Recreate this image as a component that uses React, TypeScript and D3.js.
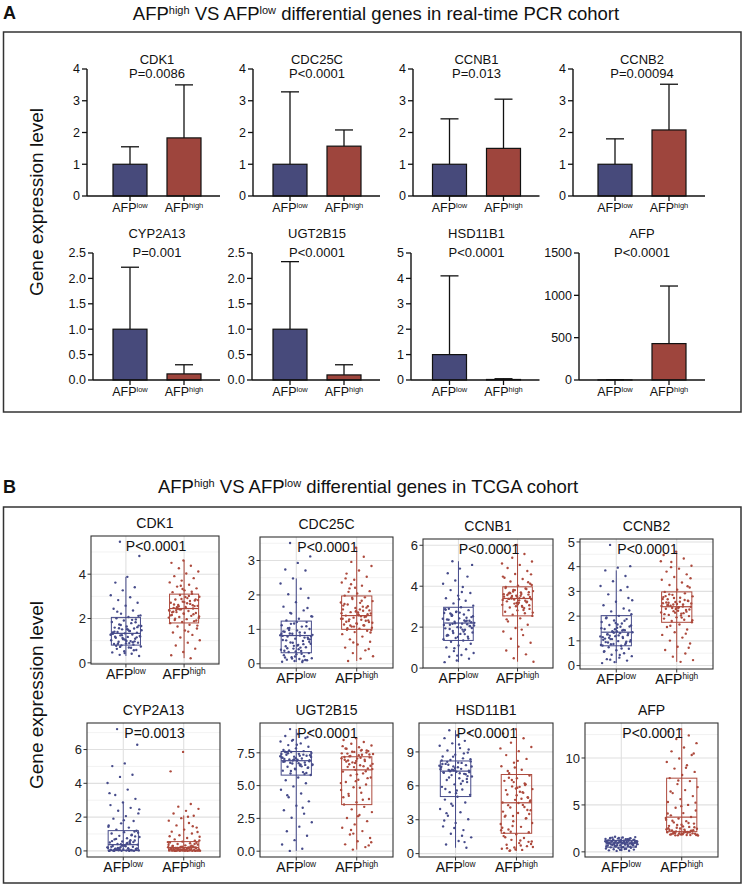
import React from 'react'
import * as d3 from 'd3'

// ---- shared ----
const groups = ['low', 'high']
const genes = ['CDK1', 'CDC25C', 'CCNB1', 'CCNB2', 'CYP2A13', 'UGT2B15', 'HSD11B1', 'AFP']

// ---- panel A: real-time PCR cohort (mean + upper SD) ----
const pcrPValues = ['P=0.0086', 'P<0.0001', 'P=0.013', 'P=0.00094', 'P=0.001', 'P<0.0001', 'P<0.0001', 'P<0.0001']
const pcrLowMean = [1, 1, 1, 1, 1, 1, 1, 1]
const pcrLowUpper = [1.55, 3.28, 2.43, 1.8, 2.22, 2.33, 4.1, 3]
const pcrHighMean = [1.83, 1.57, 1.5, 2.08, 0.12, 0.1, 0.02, 430]
const pcrHighUpper = [3.5, 2.08, 3.05, 3.52, 0.3, 0.3, 0.05, 1110]
const pcrTicks = [
  [0, 1, 2, 3, 4],
  [0, 1, 2, 3, 4],
  [0, 1, 2, 3, 4],
  [0, 1, 2, 3, 4],
  [0, 0.5, 1, 1.5, 2, 2.5],
  [0, 0.5, 1, 1.5, 2, 2.5],
  [0, 1, 2, 3, 4, 5],
  [0, 500, 1000, 1500],
]

// ---- panel B: TCGA cohort (box + jittered samples) ----
const tcgaPValues = ['P<0.0001', 'P<0.0001', 'P<0.0001', 'P<0.0001', 'P=0.0013', 'P<0.0001', 'P<0.0001', 'P<0.0001']
const tcgaTicks = [
  [0, 2, 4],
  [0, 1, 2, 3],
  [0, 2, 4, 6],
  [0, 1, 2, 3, 4, 5],
  [0, 2, 4, 6],
  [0, 2.5, 5, 7.5],
  [0, 3, 6, 9],
  [0, 5, 10],
]
// [lower whisker, q1, median, q3, upper whisker]
const tcgaLowBox = [
  [0.31, 0.8, 1.33, 2.05, 3.88],
  [0.05, 0.32, 0.82, 1.24, 2.48],
  [0.29, 1.35, 2.2, 2.97, 5.22],
  [0.1, 0.8, 1.35, 2.02, 3.85],
  [0, 0.02, 0.37, 1.2, 2.87],
  [0.02, 5.8, 6.9, 7.6, 9.31],
  [0.52, 5.05, 7.3, 8.2, 10.92],
  [0.1, 0.5, 0.95, 1.2, 1.61],
]
const tcgaHighBox = [
  [0.21, 1.8, 2.45, 3.1, 4.62],
  [0.08, 1.0, 1.4, 1.97, 3.37],
  [0.31, 2.55, 3.4, 3.97, 6.02],
  [0.15, 1.75, 2.38, 2.98, 4.61],
  [0, 0, 0.2, 0.55, 2.1],
  [0.12, 3.55, 6.2, 7.2, 8.62],
  [0.24, 1.8, 4.5, 7.0, 11.02],
  [1.73, 2.15, 3.7, 7.85, 13.08],
]
const tcgaLowPoints = [
  [5.46, 4.82, 3.88, 3.62, 3.41, 3.27, 3.05, 2.96, 2.83, 2.71, 2.58, 2.44, 2.36, 2.22, 2.14, 2.07, 2.01, 1.96, 1.91, 1.84, 1.79, 1.73, 1.68, 1.64, 1.59, 1.55, 1.51, 1.47, 1.43, 1.39, 1.36, 1.33, 1.31, 1.28, 1.24, 1.21, 1.17, 1.13, 1.09, 1.06, 1.02, 0.98, 0.95, 0.91, 0.88, 0.85, 0.82, 0.79, 0.74, 0.69, 0.63, 0.58, 0.52, 0.47, 0.41, 0.36, 0.31, 1.52, 1.18, 0.97],
  [3.51, 3.12, 2.93, 2.74, 2.71, 2.48, 2.33, 2.18, 2.02, 1.91, 1.79, 1.66, 1.55, 1.46, 1.38, 1.31, 1.26, 1.21, 1.17, 1.12, 1.08, 1.04, 1.01, 0.97, 0.93, 0.9, 0.87, 0.84, 0.82, 0.79, 0.76, 0.73, 0.69, 0.66, 0.62, 0.58, 0.55, 0.51, 0.48, 0.44, 0.41, 0.37, 0.34, 0.31, 0.28, 0.25, 0.22, 0.19, 0.16, 0.14, 0.12, 0.1, 0.08, 0.06, 0.05, 0.88, 0.71, 0.53, 0.18, 0.11],
  [5.22, 5.04, 4.86, 4.63, 4.47, 4.28, 4.12, 3.96, 3.81, 3.67, 3.54, 3.41, 3.29, 3.16, 3.05, 2.97, 2.9, 2.83, 2.76, 2.69, 2.62, 2.55, 2.49, 2.43, 2.37, 2.31, 2.26, 2.21, 2.17, 2.12, 2.06, 2.0, 1.94, 1.87, 1.81, 1.74, 1.67, 1.6, 1.53, 1.47, 1.41, 1.35, 1.28, 1.19, 1.1, 1.01, 0.92, 0.83, 0.74, 0.64, 0.55, 0.46, 0.37, 0.29, 2.33, 2.58, 1.96, 2.71, 1.62, 2.14],
  [4.88, 4.02, 3.96, 3.85, 3.62, 3.41, 3.22, 3.05, 2.88, 2.73, 2.58, 2.44, 2.31, 2.19, 2.08, 2.01, 1.95, 1.88, 1.82, 1.76, 1.7, 1.64, 1.58, 1.53, 1.48, 1.43, 1.39, 1.35, 1.31, 1.27, 1.23, 1.19, 1.15, 1.11, 1.07, 1.03, 0.99, 0.95, 0.91, 0.87, 0.83, 0.8, 0.74, 0.68, 0.62, 0.56, 0.5, 0.44, 0.38, 0.32, 0.26, 0.2, 0.14, 0.1, 1.42, 1.21, 0.97, 1.66, 1.09, 0.85],
  [7.21, 6.28, 5.18, 5.02, 4.51, 4.38, 4.02, 3.63, 3.31, 3.08, 2.87, 2.71, 2.55, 2.38, 2.22, 2.06, 1.91, 1.77, 1.63, 1.5, 1.38, 1.26, 1.19, 1.11, 1.03, 0.96, 0.89, 0.82, 0.75, 0.68, 0.62, 0.56, 0.5, 0.45, 0.41, 0.37, 0.33, 0.29, 0.25, 0.22, 0.19, 0.16, 0.13, 0.11, 0.09, 0.07, 0.05, 0.04, 0.03, 0.02, 0.02, 0.01, 0.01, 0.0, 0.0, 0.06, 0.14, 0.31, 0.58, 0.03],
  [9.31, 9.12, 8.94, 8.78, 8.63, 8.49, 8.36, 8.22, 8.09, 7.96, 7.84, 7.72, 7.63, 7.56, 7.49, 7.42, 7.35, 7.28, 7.21, 7.14, 7.07, 7.0, 6.94, 6.89, 6.83, 6.76, 6.69, 6.61, 6.53, 6.44, 6.35, 6.25, 6.14, 6.03, 5.92, 5.81, 5.62, 5.41, 5.18, 4.94, 4.68, 4.4, 4.11, 3.8, 3.47, 3.12, 2.86, 2.55, 2.21, 1.87, 1.52, 1.18, 0.84, 0.51, 0.18, 0.02, 7.31, 6.97, 7.58, 6.58],
  [10.92, 10.71, 10.48, 10.22, 9.98, 9.76, 9.55, 9.34, 9.13, 8.94, 8.76, 8.59, 8.43, 8.28, 8.16, 8.05, 7.94, 7.83, 7.72, 7.61, 7.5, 7.41, 7.33, 7.25, 7.16, 7.06, 6.95, 6.82, 6.67, 6.51, 6.33, 6.13, 5.91, 5.68, 5.44, 5.2, 5.03, 4.78, 4.52, 4.24, 3.95, 3.66, 3.35, 3.04, 2.72, 2.41, 2.08, 1.76, 1.44, 1.12, 0.81, 0.52, 7.38, 7.69, 8.03, 6.74, 7.21, 5.58, 2.93, 1.02],
  [1.61, 1.57, 1.53, 1.49, 1.45, 1.41, 1.38, 1.34, 1.31, 1.28, 1.25, 1.22, 1.19, 1.17, 1.14, 1.12, 1.09, 1.07, 1.04, 1.02, 0.99, 0.97, 0.95, 0.93, 0.9, 0.88, 0.85, 0.82, 0.79, 0.76, 0.73, 0.7, 0.67, 0.63, 0.6, 0.56, 0.52, 0.48, 0.44, 0.4, 0.36, 0.32, 0.28, 0.24, 0.2, 0.16, 0.12, 0.1, 1.06, 0.94, 1.15, 0.87, 1.21, 0.99, 1.36, 0.65, 1.1, 0.91, 1.43, 0.54],
]
const tcgaLowPointsMore = [
  [1.12, 1.27, 1.44, 0.86, 1.61, 1.03, 1.35, 0.93, 1.71, 1.19, 1.49, 0.77, 1.83, 1.08, 1.3, 0.68, 1.56, 2.12, 0.99, 1.41, 0.57, 1.25, 1.66, 0.89, 2.31, 1.15, 0.44, 1.37, 1.94, 0.72],
  [0.61, 0.83, 0.47, 1.03, 0.72, 0.36, 0.94, 0.57, 1.16, 0.79, 0.42, 0.68, 1.09, 0.52, 0.87, 0.29, 0.98, 0.64, 1.21, 0.38, 0.76, 0.15, 1.37, 0.91, 0.45, 1.62, 0.21, 0.81, 0.09, 1.48],
  [2.19, 2.41, 1.88, 2.67, 2.04, 1.52, 2.85, 2.28, 1.71, 2.53, 1.98, 2.36, 1.44, 2.74, 2.11, 1.79, 2.62, 2.24, 3.36, 1.58, 2.46, 0.97, 2.08, 3.72, 1.91, 2.31, 0.61, 2.88, 1.66, 2.16],
  [1.36, 1.18, 1.57, 0.93, 1.29, 1.72, 1.04, 1.44, 0.86, 1.62, 1.22, 1.91, 0.97, 1.33, 1.51, 0.69, 1.12, 2.23, 1.39, 0.58, 1.81, 1.07, 2.64, 0.43, 1.26, 3.18, 1.47, 0.81, 1.16, 0.24],
  [0.08, 0.21, 0.47, 0.12, 0.86, 0.34, 0.04, 0.63, 0.17, 1.08, 0.27, 0.02, 0.52, 0.39, 1.43, 0.1, 0.71, 0.06, 1.82, 0.24, 0.93, 0.15, 2.46, 0.44, 0.01, 1.15, 0.31, 3.42, 0.55, 0.07],
  [6.91, 7.24, 6.62, 7.47, 6.38, 7.09, 6.81, 7.36, 6.12, 7.18, 6.71, 7.55, 5.97, 6.99, 7.41, 6.47, 7.69, 6.86, 8.12, 7.03, 5.88, 8.43, 6.57, 7.28, 4.26, 8.71, 6.28, 7.13, 3.31, 6.74],
  [7.42, 7.78, 7.11, 8.12, 6.86, 7.57, 7.93, 6.42, 7.29, 8.36, 7.64, 5.72, 7.02, 8.58, 7.47, 6.18, 7.86, 9.21, 5.35, 7.19, 8.87, 4.41, 7.71, 9.66, 3.58, 6.61, 2.27, 8.24, 1.58, 7.36],
  [0.96, 1.13, 0.81, 1.24, 0.71, 1.05, 0.89, 1.32, 0.62, 1.01, 1.18, 0.77, 0.92, 1.47, 0.58, 1.08, 0.84, 1.29, 0.46, 0.98, 1.39, 0.69, 1.11, 0.3, 1.52, 0.86, 0.22, 1.2, 0.75, 1.03],
]
const tcgaHighPoints = [
  [4.62, 4.51, 4.38, 4.27, 4.12, 4.03, 3.91, 3.82, 3.71, 3.63, 3.52, 3.44, 3.36, 3.27, 3.19, 3.12, 3.06, 2.98, 2.92, 2.86, 2.81, 2.76, 2.71, 2.66, 2.61, 2.57, 2.52, 2.48, 2.45, 2.42, 2.38, 2.34, 2.29, 2.25, 2.21, 2.16, 2.12, 2.07, 2.02, 1.97, 1.93, 1.88, 1.84, 1.79, 1.72, 1.64, 1.55, 1.46, 1.37, 1.26, 1.14, 1.02, 0.91, 0.78, 0.64, 0.49, 0.34, 0.21, 2.55, 2.83],
  [3.37, 3.28, 3.11, 2.96, 2.84, 2.71, 2.62, 2.53, 2.44, 2.36, 2.27, 2.19, 2.11, 2.04, 1.98, 1.93, 1.88, 1.82, 1.77, 1.72, 1.67, 1.62, 1.58, 1.54, 1.5, 1.46, 1.43, 1.4, 1.37, 1.34, 1.31, 1.28, 1.24, 1.21, 1.18, 1.14, 1.11, 1.08, 1.05, 1.02, 0.99, 0.96, 0.92, 0.86, 0.79, 0.71, 0.64, 0.56, 0.47, 0.39, 0.31, 0.22, 0.15, 0.08, 1.26, 1.52, 1.69, 1.12, 2.31, 0.98],
  [6.02, 5.78, 5.57, 5.39, 5.21, 5.04, 4.89, 4.74, 4.6, 4.47, 4.35, 4.23, 4.12, 4.03, 3.96, 3.89, 3.82, 3.76, 3.7, 3.64, 3.59, 3.54, 3.49, 3.44, 3.4, 3.36, 3.31, 3.26, 3.21, 3.15, 3.09, 3.03, 2.96, 2.89, 2.82, 2.75, 2.68, 2.61, 2.55, 2.43, 2.28, 2.12, 1.96, 1.79, 1.61, 1.43, 1.24, 1.05, 0.86, 0.67, 0.48, 0.31, 3.62, 3.38, 3.71, 3.18, 4.41, 2.93, 3.52, 4.06],
  [4.61, 4.47, 4.33, 4.19, 4.04, 3.92, 3.8, 3.69, 3.58, 3.47, 3.36, 3.26, 3.16, 3.07, 2.98, 2.92, 2.86, 2.8, 2.74, 2.68, 2.62, 2.57, 2.52, 2.47, 2.42, 2.38, 2.34, 2.3, 2.25, 2.2, 2.15, 2.1, 2.05, 2.0, 1.95, 1.9, 1.85, 1.8, 1.75, 1.66, 1.56, 1.46, 1.35, 1.24, 1.13, 1.01, 0.89, 0.76, 0.63, 0.49, 0.36, 0.22, 0.15, 2.44, 2.61, 2.29, 2.77, 2.12, 3.98, 2.51],
  [5.86, 4.71, 2.78, 2.62, 2.49, 2.37, 2.21, 2.08, 1.94, 1.79, 1.65, 1.51, 1.38, 1.26, 1.14, 1.03, 0.93, 0.84, 0.76, 0.68, 0.61, 0.55, 0.5, 0.45, 0.41, 0.37, 0.33, 0.3, 0.27, 0.24, 0.22, 0.2, 0.18, 0.16, 0.14, 0.12, 0.11, 0.1, 0.09, 0.08, 0.07, 0.06, 0.05, 0.04, 0.04, 0.03, 0.03, 0.02, 0.02, 0.01, 0.01, 0.01, 0.0, 0.0, 0.0, 0.05, 0.12, 0.26, 0.08, 0.02],
  [8.62, 8.48, 8.33, 8.19, 8.06, 7.93, 7.81, 7.69, 7.57, 7.46, 7.35, 7.24, 7.15, 7.06, 6.97, 6.87, 6.77, 6.66, 6.55, 6.43, 6.31, 6.2, 6.07, 5.93, 5.78, 5.62, 5.45, 5.27, 5.08, 4.88, 4.67, 4.45, 4.22, 3.98, 3.74, 3.56, 3.38, 3.19, 2.98, 2.76, 2.53, 2.29, 2.04, 1.79, 1.53, 1.27, 1.01, 0.76, 0.52, 0.31, 0.12, 7.41, 7.12, 6.92, 7.63, 5.34, 4.11, 6.48, 1.62, 0.68],
  [11.02, 10.63, 10.21, 9.82, 9.44, 9.07, 8.72, 8.38, 8.05, 7.73, 7.42, 7.12, 6.91, 6.68, 6.44, 6.2, 5.95, 5.71, 5.47, 5.23, 4.99, 4.76, 4.53, 4.31, 4.08, 3.84, 3.6, 3.36, 3.11, 2.87, 2.62, 2.37, 2.13, 1.89, 1.72, 1.55, 1.38, 1.22, 1.07, 0.93, 0.79, 0.66, 0.54, 0.43, 0.33, 0.24, 4.62, 5.83, 3.27, 6.07, 2.44, 0.58, 1.16, 7.31, 4.95, 0.37, 3.72, 5.38, 1.93, 0.85],
  [13.08, 12.82, 12.41, 12.02, 11.58, 11.12, 10.71, 10.32, 9.94, 9.58, 9.22, 8.87, 8.52, 8.19, 7.86, 7.54, 7.22, 6.9, 6.58, 6.26, 5.94, 5.62, 5.31, 5.0, 4.7, 4.41, 4.13, 3.89, 3.72, 3.56, 3.41, 3.27, 3.14, 3.01, 2.89, 2.77, 2.66, 2.56, 2.46, 2.37, 2.29, 2.21, 2.15, 2.09, 2.03, 1.98, 1.93, 1.88, 1.84, 1.8, 1.76, 1.73, 2.12, 1.95, 2.31, 1.86, 2.52, 3.08, 2.18, 1.79],
]
const tcgaHighPointsMore = [
  [2.47, 2.63, 2.19, 2.88, 2.35, 3.02, 2.51, 1.91, 2.74, 2.28, 3.21, 2.41, 2.09, 2.69, 1.99, 2.56, 3.33, 2.14, 2.79, 2.44, 1.68, 2.97, 2.31, 2.6, 3.48, 2.04, 1.41, 2.38, 2.86, 2.23],
  [1.41, 1.22, 1.63, 1.08, 1.47, 1.83, 1.29, 1.55, 1.16, 1.74, 1.36, 1.92, 1.19, 1.58, 1.03, 1.44, 2.21, 1.31, 1.66, 1.11, 0.91, 1.49, 2.48, 1.25, 0.62, 1.78, 1.38, 2.09, 0.43, 1.53],
  [3.42, 3.57, 3.24, 3.81, 3.33, 2.98, 3.66, 3.47, 3.12, 3.91, 3.29, 3.74, 2.71, 3.53, 3.38, 4.19, 3.02, 3.61, 2.84, 3.45, 4.58, 3.19, 2.38, 3.86, 3.35, 5.11, 1.88, 3.68, 3.07, 3.5],
  [2.36, 2.55, 2.18, 2.73, 2.41, 1.94, 2.88, 2.27, 2.49, 2.08, 2.65, 2.33, 1.83, 2.58, 2.45, 3.21, 2.14, 2.69, 2.39, 1.61, 3.53, 2.22, 2.81, 1.29, 2.47, 4.22, 2.02, 2.54, 0.72, 2.31],
  [0.04, 0.11, 0.23, 0.07, 0.36, 0.15, 0.02, 0.48, 0.09, 0.19, 0.31, 0.05, 0.62, 0.13, 0.01, 0.41, 0.25, 0.87, 0.06, 0.17, 1.12, 0.03, 0.29, 1.46, 0.08, 0.52, 2.02, 0.14, 0.21, 0.03],
  [7.31, 6.84, 7.52, 6.41, 7.09, 7.72, 6.63, 7.37, 5.86, 7.18, 6.97, 7.58, 6.26, 4.84, 7.44, 5.57, 6.72, 8.01, 3.92, 7.26, 6.51, 2.67, 7.83, 6.09, 1.34, 5.19, 7.67, 4.37, 0.44, 6.88],
  [4.48, 5.62, 3.14, 6.33, 2.07, 4.86, 6.71, 3.51, 5.17, 1.84, 4.12, 6.52, 2.71, 5.91, 0.48, 3.86, 7.62, 2.29, 5.44, 0.29, 4.71, 8.21, 1.45, 6.14, 3.33, 9.31, 0.72, 4.29, 1.04, 5.76],
  [2.04, 1.87, 2.26, 1.94, 2.41, 1.79, 2.13, 2.62, 1.91, 2.33, 2.07, 2.86, 1.83, 2.19, 3.32, 1.97, 2.48, 4.08, 2.11, 1.76, 5.24, 2.71, 6.43, 2.24, 7.61, 3.61, 8.96, 2.01, 10.48, 4.87],
]

// ---- layout ----
const FONT = "'Liberation Sans', Arial, Helvetica, sans-serif"
const BAR_COLORS = ['#474a7b', '#9e453d']
const BOX_COLORS = ['#464b8a', '#ad4a3d']

const pcrAxisX = [87, 253, 413, 573, 93, 252, 411, 579]
const pcrColMid = [157, 317, 476.5, 642]
const pcrRowBase = [196, 380]
const pcrRowTop = [69, 253]

const tcgaPanels = [
  { x0: 91, x1: 219, y0: 536, y1: 664 },
  { x0: 260, x1: 393, y0: 537, y1: 668 },
  { x0: 423, x1: 553, y0: 539, y1: 668 },
  { x0: 580, x1: 713, y0: 539, y1: 669 },
  { x0: 87, x1: 220, y0: 723, y1: 857 },
  { x0: 260, x1: 393, y0: 723, y1: 857 },
  { x0: 419, x1: 553, y0: 723, y1: 857 },
  { x0: 585, x1: 718, y0: 723, y1: 857 },
]

const fmt = (ticks: number[]) => {
  const dec = ticks.some((t) => !Number.isInteger(t))
  return (t: number) => (dec ? t.toFixed(1) : String(t))
}

function GroupLabel({ x, y, group, size }: { x: number; y: number; group: string; size: number }) {
  return (
    <text x={x} y={y} textAnchor="middle" fontSize={size} fontFamily={FONT} fill="#111">
      AFP
      <tspan fontSize={size * 0.6} dy={-size * 0.34}>
        {group}
      </tspan>
    </text>
  )
}

function Title({ x, y, tail }: { x: number; y: number; tail: string }) {
  return (
    <text x={x} y={y} textAnchor="middle" fontSize={18.5} fontFamily={FONT} fill="#111">
      AFP
      <tspan fontSize={11} dy={-6}>high</tspan>
      <tspan dy={6}> VS AFP</tspan>
      <tspan fontSize={11} dy={-6}>low</tspan>
      <tspan dy={6}>{' ' + tail}</tspan>
    </text>
  )
}

function BarPanel({ i }: { i: number }) {
  const row = i < 4 ? 0 : 1
  const col = i % 4
  const ticks = pcrTicks[i]
  const y = d3
    .scaleLinear()
    .domain([0, ticks[ticks.length - 1]])
    .range([pcrRowBase[row], pcrRowTop[row]])
  const x = d3
    .scalePoint<string>()
    .domain(groups)
    .range([pcrColMid[col] - 27, pcrColMid[col] + 27])
  const ax = pcrAxisX[i]
  const xEnd = pcrColMid[col] + 63
  const base = y(0)
  const means = [pcrLowMean[i], pcrHighMean[i]]
  const uppers = [pcrLowUpper[i], pcrHighUpper[i]]
  const f = fmt(ticks)
  const barW = 34
  const titleY = row === 0 ? 64 : 238

  return (
    <g>
      <text x={pcrColMid[col]} y={titleY} textAnchor="middle" fontSize={13} fontFamily={FONT} fill="#111">
        {genes[i]}
      </text>
      <text x={pcrColMid[col]} y={titleY + (row === 0 ? 14 : 19)} textAnchor="middle" fontSize={13} fontFamily={FONT} fill="#111">
        {pcrPValues[i]}
      </text>
      {groups.map((g, k) => {
        const cx = x(g) as number
        const top = y(means[k])
        const up = y(uppers[k])
        return (
          <g key={g}>
            <line x1={cx} x2={cx} y1={top} y2={up} stroke="#111" strokeWidth={1.3} />
            <line x1={cx - 9} x2={cx + 9} y1={up} y2={up} stroke="#111" strokeWidth={1.3} />
            <rect
              x={cx - barW / 2}
              y={top}
              width={barW}
              height={Math.max(0, base - top)}
              fill={BAR_COLORS[k]}
              stroke="#111"
              strokeWidth={1.2}
            />
            <line x1={cx} x2={cx} y1={base} y2={base + 5} stroke="#111" strokeWidth={1.3} />
            <GroupLabel x={cx} y={base + 16} group={g} size={12.5} />
          </g>
        )
      })}
      <line x1={ax} x2={ax} y1={base} y2={y(ticks[ticks.length - 1])} stroke="#111" strokeWidth={1.4} />
      <line x1={ax} x2={xEnd} y1={base} y2={base} stroke="#111" strokeWidth={1.4} />
      {ticks.map((t) => (
        <g key={t}>
          <line x1={ax - 5} x2={ax} y1={y(t)} y2={y(t)} stroke="#111" strokeWidth={1.3} />
          <text x={ax - 7} y={y(t)} dy="0.35em" textAnchor="end" fontSize={12.5} fontFamily={FONT} fill="#111">
            {f(t)}
          </text>
        </g>
      ))}
    </g>
  )
}

function BoxPanel({ i }: { i: number }) {
  const p = tcgaPanels[i]
  const pts = [
    [...tcgaLowPoints[i], ...tcgaLowPointsMore[i]],
    [...tcgaHighPoints[i], ...tcgaHighPointsMore[i]],
  ]
  const boxes = [tcgaLowBox[i], tcgaHighBox[i]]
  const ext = d3.extent([...pts[0], ...pts[1], ...boxes[0], ...boxes[1]]) as [number, number]
  const pad = (ext[1] - ext[0]) * 0.05
  const y = d3.scaleLinear().domain([ext[0] - pad, ext[1] + pad]).range([p.y1, p.y0])
  const x = d3.scaleLinear().domain([0.4, 2.6]).range([p.x0, p.x1])
  const ticks = tcgaTicks[i]
  const step = ticks[1] - ticks[0]
  const [lo, hi] = y.domain()
  const minor = [ticks[0] - step / 2, ...ticks.map((t) => t + step / 2)].filter((t) => t > lo && t < hi)
  const f = fmt(ticks)
  const halfBox = 0.25
  const jitter = 0.27
  const cxMid = (p.x0 + p.x1) / 2

  return (
    <g>
      <rect x={p.x0} y={p.y0} width={p.x1 - p.x0} height={p.y1 - p.y0} fill="#fff" />
      {minor.map((t) => (
        <line key={'m' + t} x1={p.x0} x2={p.x1} y1={y(t)} y2={y(t)} stroke="#ececec" strokeWidth={0.7} />
      ))}
      {ticks.map((t) => (
        <line key={'g' + t} x1={p.x0} x2={p.x1} y1={y(t)} y2={y(t)} stroke="#e0e0e0" strokeWidth={1.1} />
      ))}
      {[1, 2].map((c) => (
        <line key={'v' + c} x1={x(c)} x2={x(c)} y1={p.y0} y2={p.y1} stroke="#e0e0e0" strokeWidth={1.1} />
      ))}
      {groups.map((g, k) => {
        const c = k + 1
        const col = BOX_COLORS[k]
        const [wLo, q1, med, q3, wHi] = boxes[k]
        return (
          <g key={g}>
            {pts[k].map((v, j) => {
              const off = (((j * 0.618034 + 0.31 + k * 0.17) % 1) * 2 - 1) * jitter
              return <circle key={j} cx={x(c + off)} cy={y(v)} r={1.2} fill={col} />
            })}
            <line x1={x(c)} x2={x(c)} y1={y(wLo)} y2={y(wHi)} stroke={col} strokeWidth={1} />
            <rect
              x={x(c - halfBox)}
              y={y(q3)}
              width={x(c + halfBox) - x(c - halfBox)}
              height={Math.max(1, y(q1) - y(q3))}
              fill="none"
              stroke={col}
              strokeWidth={1}
            />
            <line x1={x(c - halfBox)} x2={x(c + halfBox)} y1={y(med)} y2={y(med)} stroke={col} strokeWidth={1.2} />
            <line x1={x(c)} x2={x(c)} y1={p.y1} y2={p.y1 + 3.5} stroke="#333" strokeWidth={1} />
            <GroupLabel x={x(c)} y={p.y1 + 14.5} group={g} size={14} />
          </g>
        )
      })}
      <rect x={p.x0} y={p.y0} width={p.x1 - p.x0} height={p.y1 - p.y0} fill="none" stroke="#333" strokeWidth={1.1} />
      {ticks.map((t) => (
        <g key={'t' + t}>
          <line x1={p.x0 - 3.5} x2={p.x0} y1={y(t)} y2={y(t)} stroke="#333" strokeWidth={1} />
          <text x={p.x0 - 5} y={y(t)} dy="0.36em" textAnchor="end" fontSize={13} fontFamily={FONT} fill="#222">
            {f(t)}
          </text>
        </g>
      ))}
      <text x={cxMid} y={p.y0 - 8} textAnchor="middle" fontSize={14} fontFamily={FONT} fill="#111">
        {genes[i]}
      </text>
      <text x={cxMid + 1} y={p.y0 + 15} textAnchor="middle" fontSize={14} fontFamily={FONT} fill="#111">
        {tcgaPValues[i]}
      </text>
    </g>
  )
}

export default function App() {
  const idx = d3.range(genes.length)
  return (
    <div style={{ position: 'absolute', left: 0, top: 0 }}>
      <svg width={747} height={888} style={{ display: 'block', background: '#fff' }}>
        {/* panel A */}
        <text x={3} y={19} fontSize={18} fontWeight="bold" fontFamily={FONT} fill="#111">A</text>
        <Title x={376} y={20} tail="differential genes in real-time PCR cohort" />
        <rect x={3.5} y={32} width={737.5} height={380} fill="none" stroke="#333" strokeWidth={1.5} />
        <text
          transform="translate(43,202) rotate(-90)"
          textAnchor="middle"
          fontSize={19}
          fontFamily={FONT}
          fill="#111"
        >
          Gene expression level
        </text>
        {idx.map((i) => (
          <BarPanel key={i} i={i} />
        ))}

        {/* panel B */}
        <text x={3} y={493} fontSize={18} fontWeight="bold" fontFamily={FONT} fill="#111">B</text>
        <Title x={368} y={493} tail="differential genes in TCGA cohort" />
        <rect x={3.5} y={507} width={737.5} height={376} fill="none" stroke="#333" strokeWidth={1.5} />
        <text
          transform="translate(43,695) rotate(-90)"
          textAnchor="middle"
          fontSize={19}
          fontFamily={FONT}
          fill="#111"
        >
          Gene expression level
        </text>
        {idx.map((i) => (
          <BoxPanel key={i} i={i} />
        ))}
      </svg>
    </div>
  )
}
